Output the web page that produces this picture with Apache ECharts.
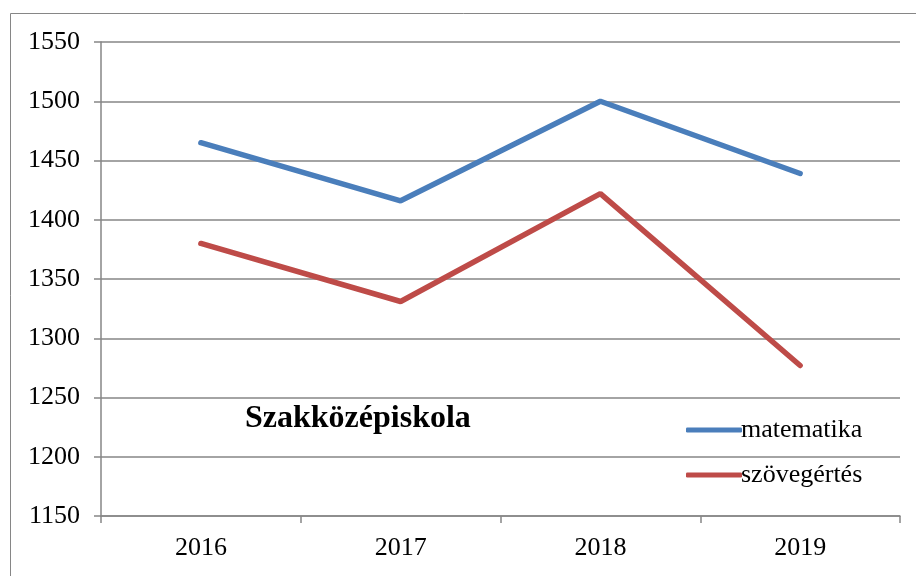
<!DOCTYPE html>
<html>
<head>
<meta charset="utf-8">
<script src="https://cdn.jsdelivr.net/npm/echarts@6/dist/echarts.min.js"></script>
<style>
  html, body { margin: 0; padding: 0; background: #fff; }
  #chart { width: 916px; height: 576px; }
</style>
</head>
<body>
<div id="chart"></div>
<script>
// years on the x axis
const years = ['2016', '2017', '2018', '2019'];
// average scores
const matematika = [1465, 1416, 1500, 1439];
const szovegertes = [1380, 1331, 1422, 1277];

const serif = '"Liberation Serif", "DejaVu Serif", serif';
const gray = '#868686';

const chart = echarts.init(document.getElementById('chart'));

const option = {
    backgroundColor: '#fff',
    animation: false,
    graphic: [
        {
            // outer frame, runs off the right and bottom edge
            type: 'rect',
            shape: { x: 10.5, y: 13.5, width: 1000, height: 1000 },
            style: { fill: 'none', stroke: gray, lineWidth: 1 },
            silent: true
        },
        {
            type: 'text',
            left: 245,
            top: 403,
            style: {
                text: 'Szakközépiskola',
                font: 'bold 32px ' + serif,
                fill: '#000'
            }
        }
    ],
    legend: {
        orient: 'vertical',
        left: 681,
        top: 412,
        itemWidth: 56,
        itemHeight: 5,
        itemGap: 19,
        icon: 'roundRect',
        textStyle: { fontFamily: serif, fontSize: 26, color: '#000', padding: [0, 0, 0, -6] },
        data: [
            { name: 'matematika', itemStyle: { color: '#4a7ebb' } },
            { name: 'szövegértés', itemStyle: { color: '#be4b48' } }
        ]
    },
    grid: { left: 101, top: 42, right: 16, bottom: 60 },
    xAxis: {
        type: 'category',
        data: years,
        boundaryGap: true,
        axisLine: { lineStyle: { color: gray, width: 1.5 } },
        axisTick: { show: true, length: 7, lineStyle: { color: gray, width: 1.5 } },
        axisLabel: { margin: 19, fontFamily: serif, fontSize: 26, color: '#000' }
    },
    yAxis: {
        type: 'value',
        min: 1150,
        max: 1550,
        interval: 50,
        axisLine: { show: true, lineStyle: { color: gray, width: 1.5 } },
        axisTick: { show: true, length: 7, lineStyle: { color: gray, width: 1.5 } },
        axisLabel: {
            margin: 21, fontFamily: serif, fontSize: 26, color: '#000',
            formatter: v => String(v)
        },
        splitLine: { lineStyle: { color: gray, width: 1.5 } }
    },
    series: [
        {
            name: 'matematika',
            type: 'line',
            data: matematika,
            symbol: 'none',
            lineStyle: { color: '#4a7ebb', width: 5.5, cap: 'round' },
            itemStyle: { color: '#4a7ebb' }
        },
        {
            name: 'szövegértés',
            type: 'line',
            data: szovegertes,
            symbol: 'none',
            lineStyle: { color: '#be4b48', width: 5.5, cap: 'round' },
            itemStyle: { color: '#be4b48' }
        }
    ]
};

chart.setOption(option);
</script>
</body>
</html>
